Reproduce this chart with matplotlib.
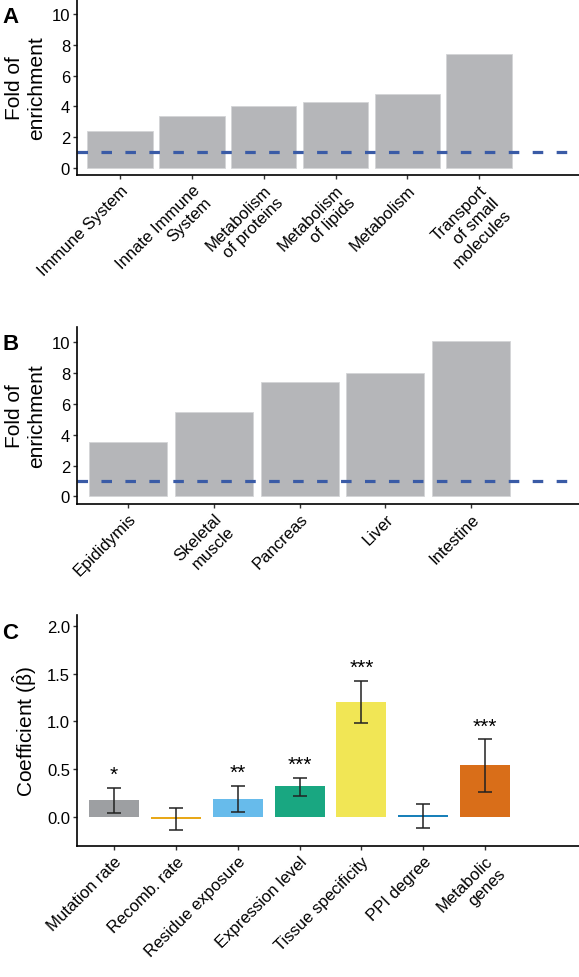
import numpy as np
import matplotlib
matplotlib.use("Agg")
import matplotlib.pyplot as plt

plt.rcParams['font.family'] = ['Liberation Sans', 'DejaVu Sans']
plt.rcParams['mathtext.fontset'] = 'custom'
plt.rcParams['mathtext.rm'] = 'Liberation Sans'
plt.rcParams['mathtext.it'] = 'Liberation Sans:italic'

# panel A - pathways
pathways = ["Immune System", "Innate Immune\nSystem", "Metabolism\nof proteins",
            "Metabolism\nof lipids", "Metabolism", "Transport\nof small\nmolecules"]
fold_pathways = [2.4, 3.35, 4.0, 4.27, 4.8, 7.42]

# panel B - tissues
tissues = ["Epididymis", "Skeletal\nmuscle", "Pancreas", "Liver", "Intestine"]
fold_tissues = [3.52, 5.44, 7.44, 8.0, 10.07]

# panel C - regression coefficients
predictors = ["Mutation rate", "Recomb. rate", "Residue exposure", "Expression level",
              "Tissue specificity", "PPI degree", "Metabolic\ngenes"]
coef = [0.175, -0.02, 0.186, 0.32, 1.20, 0.015, 0.54]
ci_low = [0.04, -0.136, 0.046, 0.214, 0.98, -0.12, 0.262]
ci_high = [0.305, 0.088, 0.325, 0.41, 1.427, 0.137, 0.815]
stars = ["*", "", "**", "***", "***", "", "***"]
colors_c = ['#939598', '#E69F00', '#56B4E9', '#009E73', '#F0E442', '#0072B2', '#D55E00']

bar_grey = '#b5b6b9'
dash_blue = '#3a5ba6'

fig = plt.figure(figsize=(5.79, 9.78), dpi=100)

def style_axis(ax):
    ax.spines['top'].set_visible(False)
    ax.spines['right'].set_visible(False)
    ax.spines['left'].set_linewidth(1.2)
    ax.spines['bottom'].set_linewidth(1.2)
    ax.tick_params(length=3, width=1, color='#333333', labelsize=12, labelcolor='black', pad=2)

def fold_panel(ax, labels, values, xright):
    x = np.arange(len(labels))
    ax.bar(x, values, width=0.91, color=bar_grey, edgecolor='#d4d5d7', linewidth=0.6)
    ax.axhline(1, color=dash_blue, lw=2.3, dashes=(3.3, 4.2))
    ax.set_xlim(-0.6, xright)
    ax.set_ylim(-0.47, 11)
    ax.set_yticks([0, 2, 4, 6, 8, 10])
    ax.set_xticks(x)
    ax.set_xticklabels(labels, rotation=45, ha='right', rotation_mode='anchor', fontsize=12)
    ax.set_ylabel("Fold of\nenrichment", fontsize=15, labelpad=4)
    style_axis(ax)

axA = fig.add_axes([0.133, 0.820, 0.867, 0.180])
fold_panel(axA, pathways, fold_pathways, 6.39)

axB = fig.add_axes([0.133, 0.484, 0.867, 0.181])
fold_panel(axB, tissues, fold_tissues, 5.26)

axC = fig.add_axes([0.133, 0.1336, 0.867, 0.2369])
xc = np.arange(len(predictors))
err = [np.array(coef) - np.array(ci_low), np.array(ci_high) - np.array(coef)]
axC.bar(xc, coef, width=0.81, color=colors_c, alpha=0.9)
axC.errorbar(xc, coef, yerr=err, fmt='none', ecolor='#222222', elinewidth=1.1,
             capsize=5, capthick=1.1)
for i in range(len(predictors)):
    if stars[i]:
        axC.text(xc[i], ci_high[i] + 0.08, stars[i], ha='center', va='baseline', fontsize=15)
axC.set_xlim(-0.6, 7.52)
axC.set_ylim(-0.31, 2.12)
axC.set_yticks([0, 0.5, 1.0, 1.5, 2.0])
axC.set_yticklabels(["0.0", "0.5", "1.0", "1.5", "2.0"])
axC.set_xticks(xc)
axC.set_xticklabels(predictors, rotation=45, ha='right', rotation_mode='anchor', fontsize=12)
axC.set_ylabel(r"Coefficient ($\hat{\mathrm{\beta}}$)", fontsize=15, labelpad=6)
style_axis(axC)

fig.text(0.004, 1 - 22.7 / 978, "A", fontsize=16, fontweight='bold', va='baseline')
fig.text(0.004, 1 - 350 / 978, "B", fontsize=16, fontweight='bold', va='baseline')
fig.text(0.004, 1 - 639.3 / 978, "C", fontsize=16, fontweight='bold', va='baseline')

fig.savefig("out.png", dpi=100)
